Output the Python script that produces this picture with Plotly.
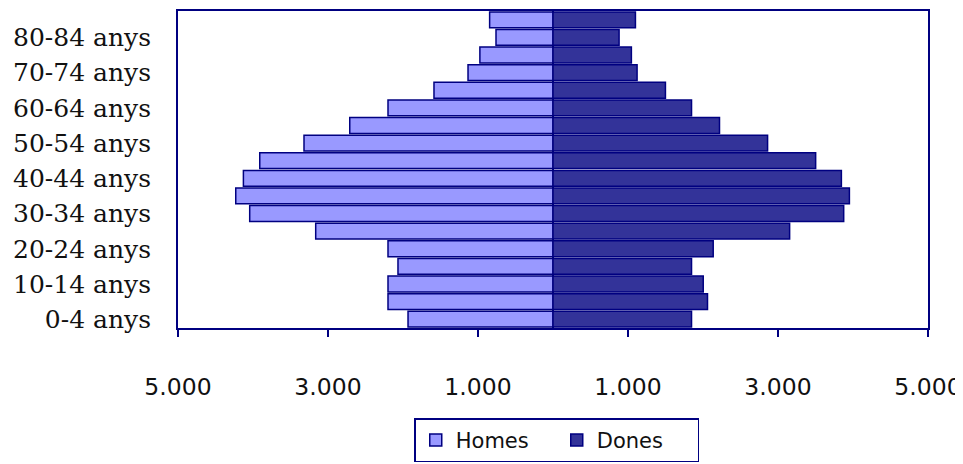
import plotly.graph_objects as go

age_groups = ["0-4 anys", "5-9 anys", "10-14 anys", "15-19 anys", "20-24 anys",
              "25-29 anys", "30-34 anys", "35-39 anys", "40-44 anys", "45-49 anys",
              "50-54 anys", "55-59 anys", "60-64 anys", "65-69 anys", "70-74 anys",
              "75-79 anys", "80-84 anys", "85 anys i més"]
homes = [1933, 2200, 2200, 2067, 2200, 3164, 4044, 4230, 4128, 3910,
         3320, 2710, 2200, 1587, 1133, 975, 760, 845]
dones = [1847, 2060, 2003, 1847, 2136, 3155, 3876, 3952, 3845, 3502,
         2861, 2220, 1847, 1499, 1121, 1045, 881, 1099]
x_tick_vals = [-5000, -3000, -1000, 1000, 3000, 5000]
x_tick_text = ["5.000", "3.000", "1.000", "1.000", "3.000", "5.000"]
y_tick_labels = age_groups[::2][:9]

navy = "#000080"

fig = go.Figure()
fig.add_trace(go.Bar(
    y=age_groups, x=[-v for v in homes], orientation="h", name="Homes",
    marker=dict(color="#9999FF", line=dict(color=navy, width=1.5)),
))
fig.add_trace(go.Bar(
    y=age_groups, x=dones, orientation="h", name="Dones",
    marker=dict(color="#333399", line=dict(color=navy, width=1.5)),
))

fig.update_layout(
    width=963, height=464,
    margin=dict(l=170, r=43, t=1, b=144),
    paper_bgcolor="white", plot_bgcolor="white",
    barmode="relative", bargap=0.1,
    showlegend=True,
    legend=dict(
        orientation="h", x=0.505, xanchor="center", y=-0.285, yanchor="top",
        bordercolor=navy, borderwidth=1.5,
        font=dict(family="DejaVu Sans", size=21, color="#111"),
        itemwidth=30, entrywidth=96, traceorder="normal",
    ),
    xaxis=dict(
        range=[-5000, 5000], tickvals=x_tick_vals, ticktext=x_tick_text,
        showgrid=False, zeroline=True, zerolinecolor=navy, zerolinewidth=2,
        showline=True, linecolor=navy, linewidth=2, mirror=True,
        ticks="outside", ticklen=7, tickcolor=navy, tickwidth=2,
        ticklabelstandoff=30,
        tickfont=dict(family="DejaVu Sans", size=23.5, color="#111"),
    ),
    yaxis=dict(
        categoryorder="array", categoryarray=age_groups,
        tickvals=y_tick_labels, ticktext=y_tick_labels,
        showgrid=False, showline=True, linecolor=navy, linewidth=2, mirror=True,
        ticks="", ticklabelstandoff=20,
        tickfont=dict(family="DejaVu Serif", size=25, color="#111"),
    ),
)

fig.write_html("out.html")
